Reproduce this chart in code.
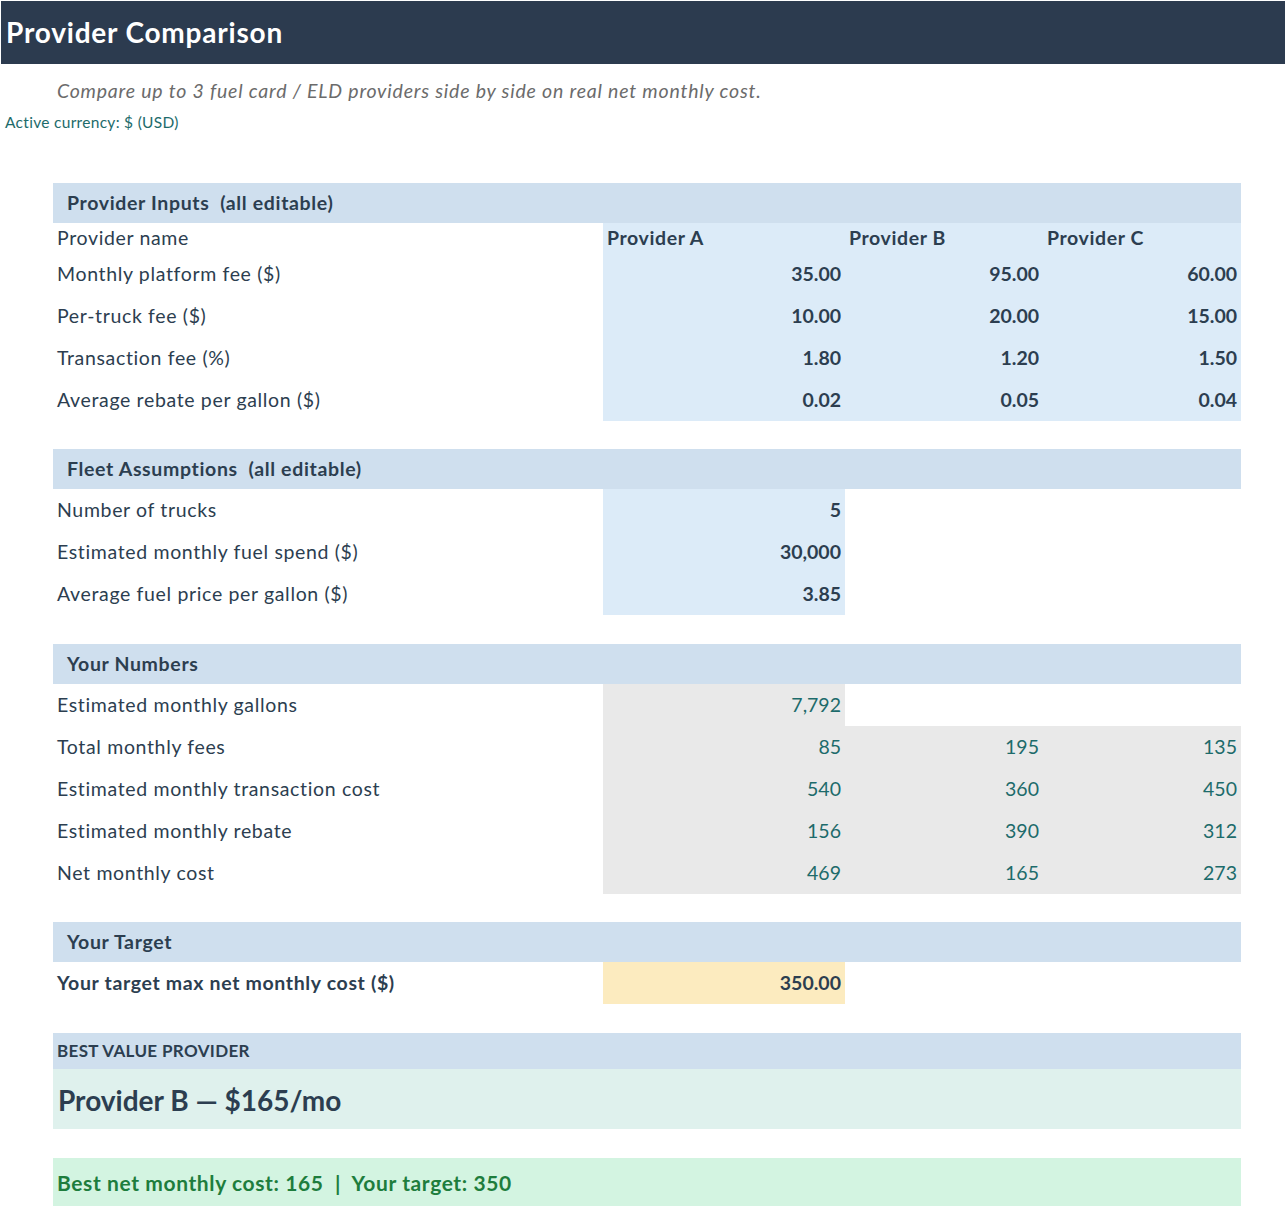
<!DOCTYPE html>
<html>
<head>
<meta charset="utf-8">
<title>Provider Comparison</title>
<script src="https://cdn.jsdelivr.net/npm/chart.js@4.4.0/dist/chart.umd.min.js"></script>
<style>
  body { margin: 0; background: #fff; font-family: Lato, "Noto Sans", sans-serif; color: #2c3e50; width: 1285px; }
  #topbar { margin: 1px 0 0 1px; height: 63px; background: #2c3b4f; color: #fff; font-size: 28px; font-weight: bold; line-height: 63px; padding-left: 5px; letter-spacing: 0.8px; }
  #subtitle { margin: 14px 0 0 57px; font-size: 19.5px; font-style: italic; color: #6b6b6b; height: 26px; line-height: 26px; letter-spacing: 0.8px; }
  #currency { margin: 8px 0 0 5px; font-size: 15.5px; color: #1d6b6b; height: 20px; line-height: 20px; letter-spacing: 0.3px; }
  #sheet { position: relative; margin-left: 53px; width: 1188px; margin-top: 51px; }
  .sec { background: #cfdfee; height: 40px; line-height: 40px; font-weight: bold; font-size: 19.5px; padding-left: 14px; color: #2c3e50; letter-spacing: 0.65px; }
  .row { display: grid; grid-template-columns: 550px 242px 198px 198px; height: 42px; }
  .row.short { height: 30px; }
  .row > div { line-height: 42px; font-size: 19.5px; white-space: nowrap; }
  .row.short > div { line-height: 30px; }
  .lbl { padding-left: 4px; color: #2c3e50; letter-spacing: 0.65px; }
  .num { text-align: right; padding-right: 4px; }
  .inp { background: #dcebf8; font-weight: bold; }
  .calc { background: #e9e9e9; color: #1d6b6b; }
  .tgt { background: #fcebbf; font-weight: bold; }
  .name { text-align: left; padding-left: 4px; letter-spacing: 0.6px; }
  .gap { height: 28px; }
  .bvhead { background: #cfdfee; height: 36px; line-height: 36px; font-size: 17px; font-weight: bold; padding-left: 4px; color: #2c3e50; letter-spacing: 0.35px; }
  .bvbody { background: #dff1ed; height: 60px; line-height: 62px; font-size: 28px; font-weight: bold; padding-left: 5px; color: #2c3e50; }
  .status { background: #d3f4e1; height: 48px; line-height: 50px; font-size: 21px; font-weight: bold; padding-left: 4px; color: #1e7d3d; letter-spacing: 0.6px; }
</style>
</head>
<body>
<div id="topbar"></div>
<div id="subtitle"></div>
<div id="currency"></div>
<div id="sheet"></div>
<script>
const title = "Provider Comparison";
const subtitle = "Compare up to 3 fuel card / ELD providers side by side on real net monthly cost.";
const currencyNote = "Active currency: $ (USD)";

const providerNames = ["Provider A", "Provider B", "Provider C"];
const inputLabels = ["Monthly platform fee ($)", "Per-truck fee ($)", "Transaction fee (%)", "Average rebate per gallon ($)"];
const platformFees = [35, 95, 60];
const truckFees = [10, 20, 15];
const txnFees = [1.8, 1.2, 1.5];
const rebates = [0.02, 0.05, 0.04];

const fleetLabels = ["Number of trucks", "Estimated monthly fuel spend ($)", "Average fuel price per gallon ($)"];
const fleetValues = ["5", "30,000", "3.85"];

const numberLabels = ["Estimated monthly gallons", "Total monthly fees", "Estimated monthly transaction cost", "Estimated monthly rebate", "Net monthly cost"];
const monthlyGallons = "7,792";
const totalFees = [85, 195, 135];
const txnCosts = [540, 360, 450];
const rebateTotals = [156, 390, 312];
const netCosts = [469, 165, 273];

const targetLabel = "Your target max net monthly cost ($)";
const targetValue = 350;
const bestProvider = "Provider B";
const bestCost = 165;

document.getElementById("topbar").textContent = title;
document.getElementById("subtitle").textContent = subtitle;
document.getElementById("currency").textContent = currencyNote;

const sheet = document.getElementById("sheet");

function add(html) {
  sheet.insertAdjacentHTML("beforeend", html);
}

function section(text) {
  add(`<div class="sec">${text}</div>`);
}

function row(label, cells, opts = {}) {
  const cls = opts.short ? "row short" : "row";
  const lblStyle = opts.bold ? ' style="font-weight:bold"' : "";
  let html = `<div class="${cls}"><div class="lbl"${lblStyle}>${label}</div>`;
  for (const c of cells) {
    html += `<div class="${c.cls || ""}">${c.text === undefined ? "" : c.text}</div>`;
  }
  add(html + "</div>");
}

const fmt2 = v => v.toFixed(2);

// provider inputs
section("Provider Inputs&nbsp; (all editable)");
row("Provider name", providerNames.map(n => ({ text: n, cls: "inp name" })), { short: true });
const inputSeries = [platformFees, truckFees, txnFees, rebates];
inputLabels.forEach((l, i) => {
  row(l, inputSeries[i].map(v => ({ text: fmt2(v), cls: "inp num" })));
});
add('<div class="gap"></div>');

// fleet
section("Fleet Assumptions&nbsp; (all editable)");
fleetLabels.forEach((l, i) => {
  row(l, [{ text: fleetValues[i], cls: "inp num" }, {}, {}]);
});
add('<div class="gap" style="height:29px"></div>');

// numbers
section("Your Numbers");
row(numberLabels[0], [{ text: monthlyGallons, cls: "calc num" }, {}, {}]);
const numberSeries = [totalFees, txnCosts, rebateTotals, netCosts];
numberSeries.forEach((s, i) => {
  row(numberLabels[i + 1], s.map(v => ({ text: v, cls: "calc num" })));
});
add('<div class="gap"></div>');

// target
section("Your Target");
row(targetLabel, [{ text: fmt2(targetValue), cls: "tgt num" }, {}, {}], { bold: true });
add('<div class="gap" style="height:29px"></div>');

add(`<div class="bvhead">BEST VALUE PROVIDER</div>`);
add(`<div class="bvbody">${bestProvider} — $${bestCost}/mo</div>`);
add('<div class="gap" style="height:29px"></div>');
add(`<div class="status">Best net monthly cost: ${bestCost}&nbsp; |&nbsp; Your target: ${targetValue}</div>`);
</script>
</body>
</html>
